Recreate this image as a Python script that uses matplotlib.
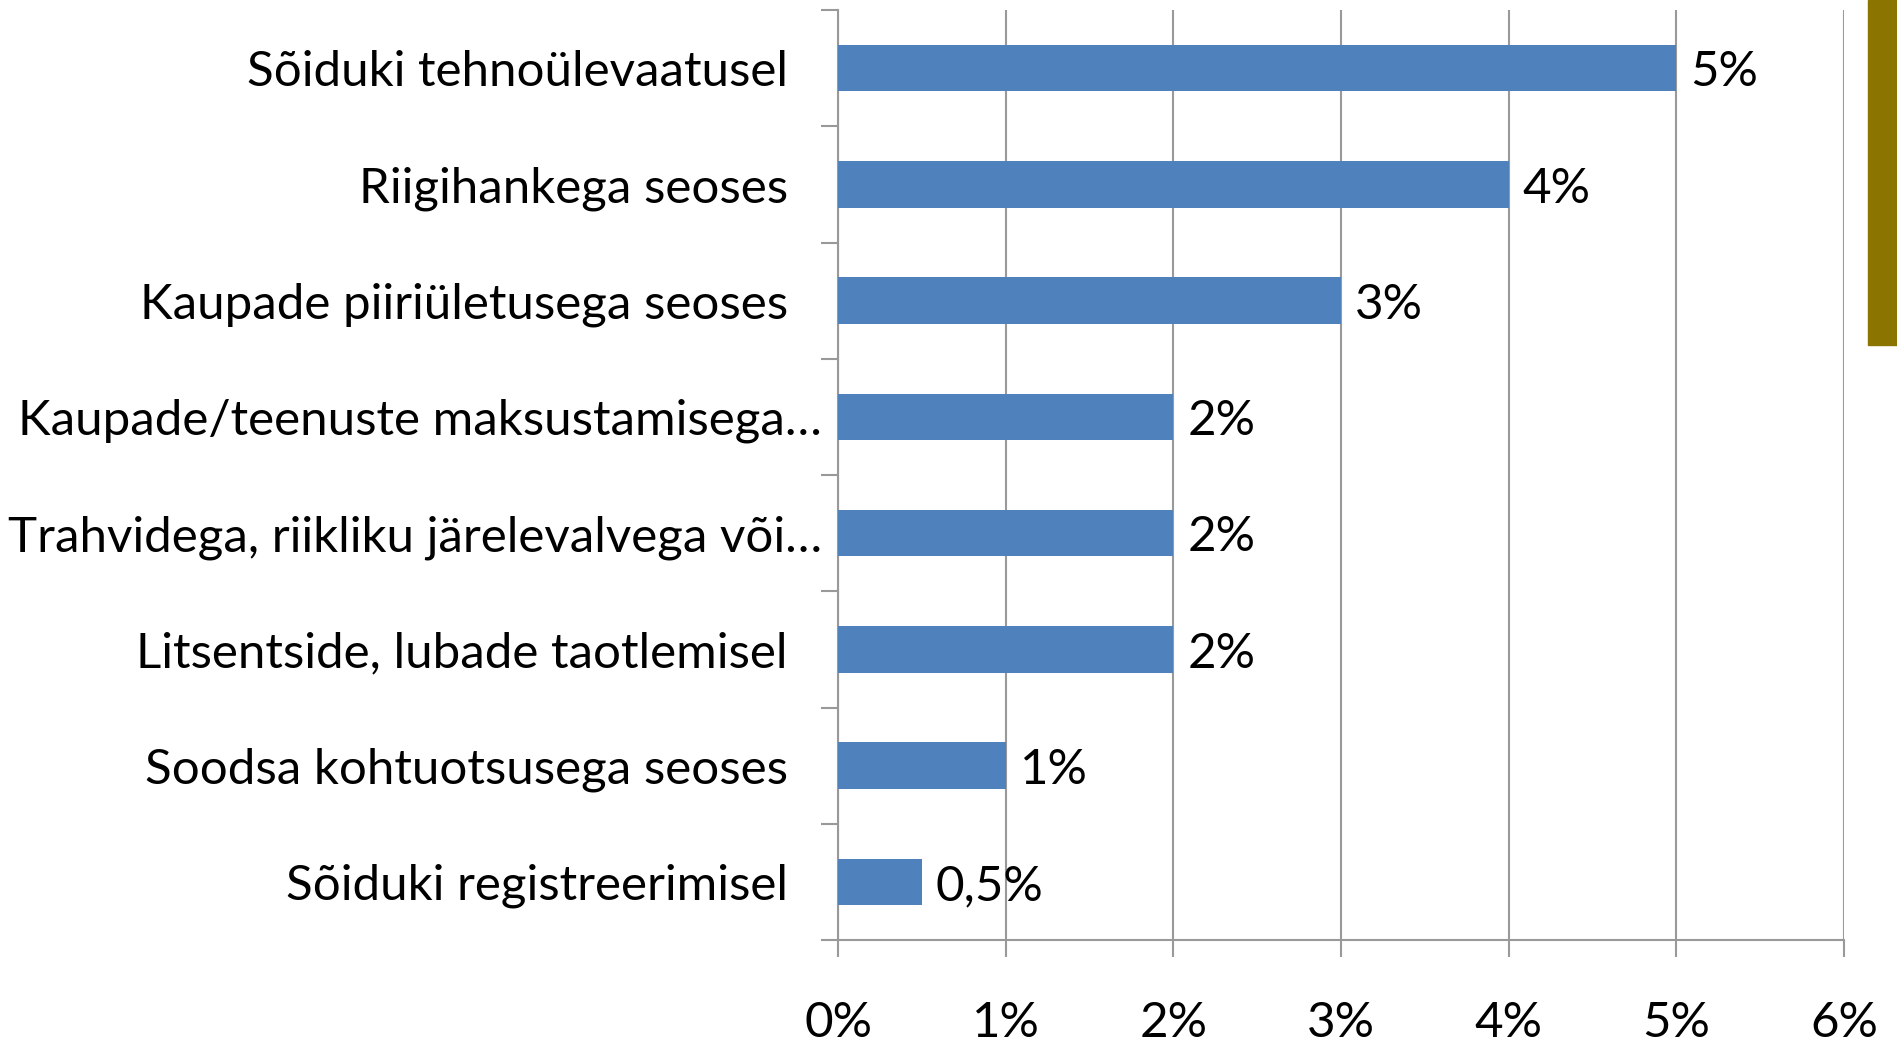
import matplotlib
matplotlib.use("Agg")
import matplotlib.pyplot as plt
import matplotlib.patches as mpatches
import matplotlib.transforms as mtransforms
import numpy as np

# categories top -> bottom, as in the reference
categories = [
    "Sõiduki tehnoülevaatusel",
    "Riigihankega seoses",
    "Kaupade piiriületusega seoses",
    "Kaupade/teenuste maksustamisega…",
    "Trahvidega, riikliku järelevalvega või…",
    "Litsentside, lubade taotlemisel",
    "Soodsa kohtuotsusega seoses",
    "Sõiduki registreerimisel",
]
values = [5, 4, 3, 2, 2, 2, 1, 0.5]
value_labels = ["5%", "4%", "3%", "2%", "2%", "2%", "1%", "0,5%"]
x_ticks = [0, 1, 2, 3, 4, 5, 6]
x_tick_labels = ["0%", "1%", "2%", "3%", "4%", "5%", "6%"]

bar_color = "#4F81BD"
grid_color = "#999999"
font = "Lato"
fs = 35.5

fig = plt.figure(figsize=(18.97, 10.44), dpi=100)
ax = fig.add_axes([838 / 1897, 104 / 1044, (1844 - 838) / 1897, (940 - 10) / 1044])

n = len(categories)
y = np.arange(n)
ax.barh(y, values, height=0.4, color=bar_color, zorder=3)
for yi, v, lab in zip(y, values, value_labels):
    ax.annotate(lab, (v, yi), xytext=(10, -3), textcoords="offset points",
                va="center", ha="left", fontsize=fs, family=font)

ax.set_ylim(n - 0.5, -0.5)
ax.set_xlim(0, 6)

ax.set_xticks(x_ticks)
ax.set_xticklabels(x_tick_labels, family=font, fontsize=fs)
ax.tick_params(axis="x", direction="out", length=12, width=1.5, color=grid_color, pad=32)
ax.xaxis.grid(True, color=grid_color, linewidth=1.5, zorder=0)

ax.set_yticks(y)
ax.set_yticklabels(categories, family=font, fontsize=fs)
ax.tick_params(axis="y", which="major", length=0, pad=36)
ax.set_yticks(np.arange(-0.5, n, 1), minor=True)
ax.tick_params(axis="y", which="minor", direction="out", length=12, width=1.5, color=grid_color)

# truncated labels sit closer to the axis in the original
shift = mtransforms.ScaledTranslation(34 / 100, 0, fig.dpi_scale_trans)
for t in ax.get_yticklabels():
    if t.get_text().endswith("…"):
        t.set_transform(t.get_transform() + shift)

for s in ["top", "right"]:
    ax.spines[s].set_visible(False)
for s in ["left", "bottom"]:
    ax.spines[s].set_color(grid_color)
    ax.spines[s].set_linewidth(1.5)

# gold decoration bar at right edge
fig.patches.append(mpatches.Rectangle((1868 / 1897, 1 - 345 / 1044), 29 / 1897, 345 / 1044,
                                      transform=fig.transFigure, color="#8B7500", zorder=5))

fig.savefig("out.png", dpi=100)
